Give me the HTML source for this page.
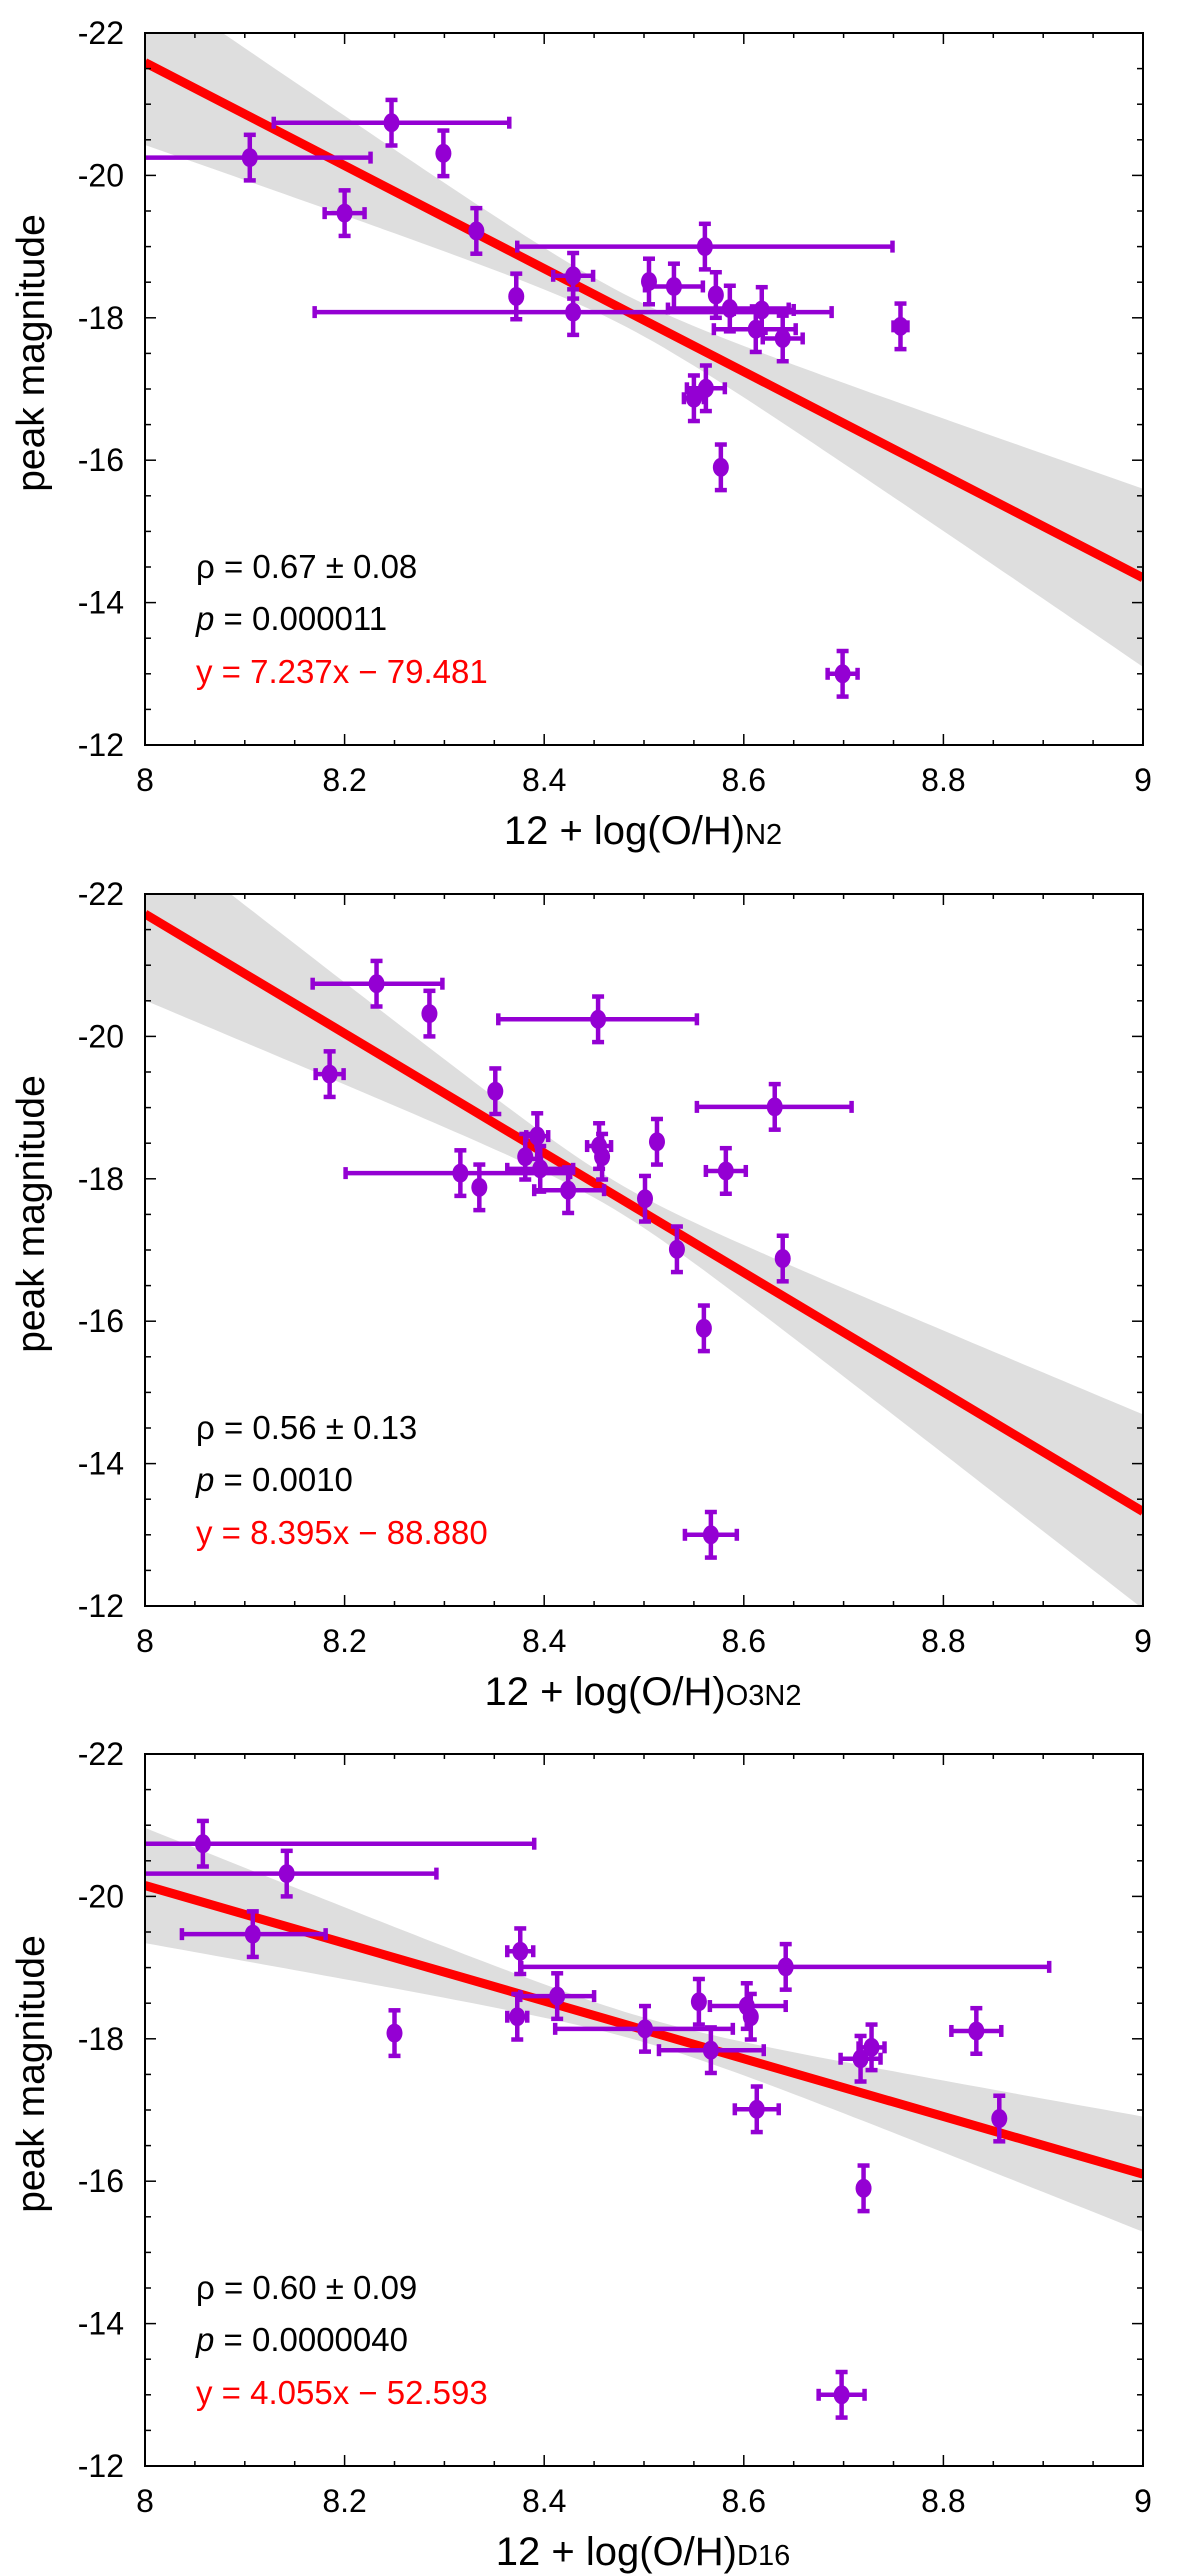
<!DOCTYPE html>
<html><head><meta charset="utf-8">
<style>
html,body{margin:0;padding:0;background:#fff;}
svg{display:block;}
text{font-family:"Liberation Sans","DejaVu Sans",sans-serif;}
</style></head>
<body>
<svg id="fig" width="1200" height="2575" viewBox="0 0 1200 2575" xmlns="http://www.w3.org/2000/svg"></svg>
<script>
// ---- Panel 1 (N2) data ----
const p1X    = [8.105,8.247,8.299,8.200,8.332,8.561,8.372,8.429,8.429,8.505,8.530,8.572,8.586,8.618,8.612,8.639,8.757,8.562,8.550,8.577,8.699];
const p1Y    = [-20.25,-20.74,-20.31,-19.47,-19.22,-19.00,-18.30,-18.59,-18.08,-18.51,-18.44,-18.32,-18.13,-18.11,-17.84,-17.71,-17.88,-17.01,-16.87,-15.90,-13.00];
const p1XLo  = [7.90,8.129,8.299,8.180,8.332,8.373,8.372,8.409,8.170,8.505,8.501,8.572,8.524,8.590,8.570,8.619,8.750,8.543,8.540,8.577,8.684];
const p1XHi  = [8.226,8.365,8.299,8.220,8.332,8.749,8.372,8.449,8.688,8.505,8.559,8.572,8.645,8.650,8.652,8.659,8.764,8.581,8.560,8.577,8.714];
// ---- Panel 2 (O3N2) data ----
const p2X    = [8.232,8.285,8.454,8.185,8.351,8.631,8.393,8.381,8.455,8.458,8.513,8.582,8.316,8.396,8.335,8.424,8.501,8.533,8.639,8.560,8.567];
const p2Y    = [-20.74,-20.32,-20.24,-19.47,-19.23,-19.01,-18.60,-18.31,-18.46,-18.31,-18.52,-18.11,-18.08,-18.14,-17.88,-17.84,-17.72,-17.01,-16.88,-15.90,-13.00];
const p2XLo  = [8.168,8.285,8.354,8.171,8.351,8.553,8.382,8.381,8.443,8.458,8.513,8.562,8.201,8.363,8.335,8.390,8.501,8.533,8.639,8.560,8.541];
const p2XHi  = [8.298,8.285,8.553,8.199,8.351,8.708,8.404,8.381,8.467,8.458,8.513,8.602,8.426,8.429,8.335,8.460,8.501,8.533,8.639,8.560,8.593];
// ---- Panel 3 (D16) data ----
const p3X    = [8.058,8.142,8.108,8.376,8.642,8.413,8.373,8.555,8.603,8.607,8.250,8.501,8.567,8.717,8.728,8.833,8.613,8.856,8.720,8.698];
const p3Y    = [-20.74,-20.32,-19.47,-19.23,-19.01,-18.60,-18.31,-18.52,-18.46,-18.31,-18.08,-18.14,-17.84,-17.72,-17.88,-18.11,-17.01,-16.88,-15.90,-13.00];
const p3XLo  = [7.90,7.90,8.037,8.363,8.377,8.376,8.363,8.555,8.566,8.607,8.250,8.411,8.515,8.697,8.715,8.808,8.591,8.856,8.720,8.675];
const p3XHi  = [8.390,8.292,8.181,8.389,8.906,8.450,8.383,8.555,8.642,8.607,8.250,8.589,8.620,8.737,8.741,8.858,8.635,8.856,8.720,8.721];
// shared y error (magnitude)
const yErr = 0.32;
// fits: slope, intercept
const fitSlope = [7.237, 8.395, 4.055];
const fitIntercept = [-79.481, -88.880, -52.593];
// confidence band params: centre x, min var, curvature
const bandX0 = [8.48, 8.47, 8.50];
const bandA  = [0.05, 0.04, 0.03];
const bandB  = [5.6, 6.5, 2.5];
// labels
const xTickLabels = ["8","8.2","8.4","8.6","8.8","9"];
const yTickLabels = ["-22","-20","-18","-16","-14","-12"];
const rhoText = ["0.67 ± 0.08","0.56 ± 0.13","0.60 ± 0.09"];
const pText = ["0.000011","0.0010","0.0000040"];
const eqText = ["y = 7.237x − 79.481","y = 8.395x − 88.880","y = 4.055x − 52.593"];
const subText = ["N2","O3N2","D16"];

const NS="http://www.w3.org/2000/svg";
const svg=document.getElementById('fig');
const L=145,R=1143,H=712;
const tops=[33,894,1754];
const XMIN=8,XMAX=9,YMIN=-22,YMAX=-12;
const PURPLE="#9400d3";

function mk(tag,attrs,parent){const e=document.createElementNS(NS,tag);for(const k in attrs)e.setAttribute(k,attrs[k]);(parent||svg).appendChild(e);return e;}

const panelsX=[p1X,p2X,p3X],panelsY=[p1Y,p2Y,p3Y],panelsLo=[p1XLo,p2XLo,p3XLo],panelsHi=[p1XHi,p2XHi,p3XHi];

for(let pi=0;pi<3;pi++){
  const T=tops[pi],B=T+H;
  const sx=v=>L+(v-XMIN)/(XMAX-XMIN)*(R-L);
  const sy=v=>T+(v-YMIN)/(YMAX-YMIN)*H;
  const g=mk('g',{});
  
  
  const cid='clip'+pi;
  const defs=mk('defs',{},g);
  const cp=mk('clipPath',{id:cid},defs);
  mk('rect',{x:L,y:T,width:R-L,height:H},cp);
  const plot=mk('g',{'clip-path':'url(#'+cid+')'},g);
  const up=[],lo=[];
  for(let i=0;i<=100;i++){
    const x=XMIN+i/100*(XMAX-XMIN);
    const yl=fitSlope[pi]*x+fitIntercept[pi];
    const hw=Math.sqrt(bandA[pi]+bandB[pi]*(x-bandX0[pi])*(x-bandX0[pi]));
    up.push(sx(x).toFixed(1)+','+sy(yl-hw).toFixed(1));
    lo.push(sx(x).toFixed(1)+','+sy(yl+hw).toFixed(1));
  }
  const band=mk('polygon',{points:up.concat(lo.reverse()).join(' '),fill:'#dedede'},plot);
  
  
  const fl=mk('line',{x1:sx(XMIN),y1:sy(fitSlope[pi]*XMIN+fitIntercept[pi]),x2:sx(XMAX),y2:sy(fitSlope[pi]*XMAX+fitIntercept[pi]),stroke:'#ff0000','stroke-width':9},plot);
  
  
  const xs=panelsX[pi],ys=panelsY[pi],xl=panelsLo[pi],xh=panelsHi[pi];
  for(let i=0;i<xs.length;i++){
    const pg=mk('g',{stroke:PURPLE,'stroke-width':4.5,fill:PURPLE},plot);
    
    
    const cx=sx(xs[i]),cy=sy(ys[i]);
    const y1=sy(ys[i]-yErr),y2=sy(ys[i]+yErr);
    mk('line',{x1:cx,y1:y1,x2:cx,y2:y2},pg);
    mk('line',{x1:cx-6,y1:y1,x2:cx+6,y2:y1},pg);
    mk('line',{x1:cx-6,y1:y2,x2:cx+6,y2:y2},pg);
    if(xh[i]-xl[i]>0.001){
      const a=sx(xl[i]),b=sx(xh[i]);
      mk('line',{x1:a,y1:cy,x2:b,y2:cy},pg);
      mk('line',{x1:a,y1:cy-6,x2:a,y2:cy+6},pg);
      mk('line',{x1:b,y1:cy-6,x2:b,y2:cy+6},pg);
    }
    mk('ellipse',{cx:cx,cy:cy,rx:8,ry:9.5,stroke:'none'},pg);
  }
  const fr=mk('rect',{x:L,y:T,width:R-L,height:H,fill:'none',stroke:'#000','stroke-width':2},g);
  
  
  for(let k=0;k<=20;k++){
    const v=XMIN+k*0.05,x=sx(v),len=(k%4===0)?11:5;
    mk('line',{x1:x,y1:B,x2:x,y2:B-len,stroke:'#000','stroke-width':1.5},g);
    mk('line',{x1:x,y1:T,x2:x,y2:T+len,stroke:'#000','stroke-width':1.5},g);
  }
  for(let k=0;k<=20;k++){
    const v=YMIN+k*0.5,y=sy(v),len=(k%4===0)?11:6;
    mk('line',{x1:L,y1:y,x2:L+len,y2:y,stroke:'#000','stroke-width':1.5},g);
    mk('line',{x1:R,y1:y,x2:R-len,y2:y,stroke:'#000','stroke-width':1.5},g);
  }
  xTickLabels.forEach((s,k)=>{
    const t=mk('text',{x:sx(XMIN+k*0.2),y:B+46,'font-size':32,'text-anchor':'middle',fill:'#000'},g);
    t.textContent=s;
    
    
  });
  yTickLabels.forEach((s,k)=>{
    const t=mk('text',{x:124,y:sy(YMIN+k*2)+11,'font-size':32,'text-anchor':'end',fill:'#000'},g);
    t.textContent=s;
    
    
  });
  const xt=mk('text',{x:643,y:B+99,'font-size':40,'text-anchor':'middle',fill:'#000'},g);
  
  
  const t1=mk('tspan',{},xt);t1.textContent='12 + log(O/H)';
  const t2=mk('tspan',{'font-size':29},xt);t2.textContent=subText[pi];
  const yt=mk('text',{x:0,y:0,'font-size':39,'text-anchor':'middle',fill:'#000',transform:'translate(44,'+(T+320)+') rotate(-90)'},g);
  yt.textContent='peak magnitude';
  
  
  const a1=mk('text',{x:196,y:T+545,'font-size':33,fill:'#000'},g);
  a1.textContent='ρ = '+rhoText[pi];
  
  
  const a2=mk('text',{x:196,y:T+597,'font-size':33,fill:'#000'},g);
  
  
  const a2i=mk('tspan',{'font-style':'italic'},a2);a2i.textContent='p';
  const a2r=mk('tspan',{},a2);a2r.textContent=' = '+pText[pi];
  const a3=mk('text',{x:196,y:T+650,'font-size':33,fill:'#ff0000'},g);
  a3.textContent=eqText[pi];
  
  
}
</script>
</body></html>
